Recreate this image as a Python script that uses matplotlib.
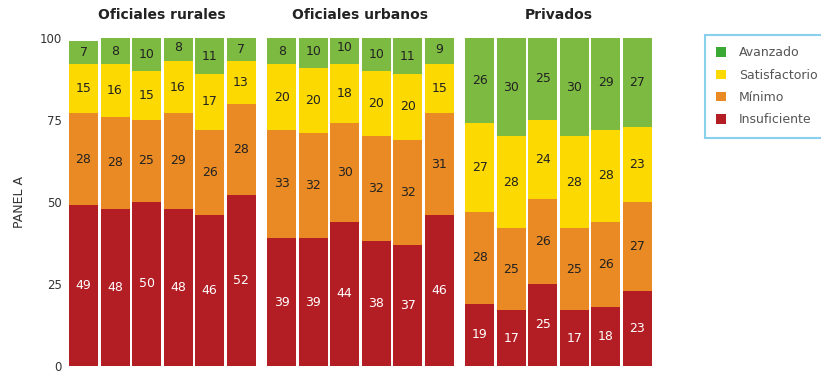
import matplotlib
matplotlib.use("Agg")
import matplotlib.pyplot as plt
import numpy as np
from matplotlib.patches import Patch

groups = ["Oficiales rurales", "Oficiales urbanos", "Privados"]
levels = ["Insuficiente", "Mínimo", "Satisfactorio", "Avanzado"]
colors = {"Insuficiente": "#b31e24", "Mínimo": "#e98a24",
          "Satisfactorio": "#fcd900", "Avanzado": "#7dba42"}
legend_colors = {"Insuficiente": "#b31e24", "Mínimo": "#e98a24",
                 "Satisfactorio": "#fcd900", "Avanzado": "#3aaa35"}

insuficiente = [[49, 48, 50, 48, 46, 52], [39, 39, 44, 38, 37, 46], [19, 17, 25, 17, 18, 23]]
minimo       = [[28, 28, 25, 29, 26, 28], [33, 32, 30, 32, 32, 31], [28, 25, 26, 25, 26, 27]]
satisfact    = [[15, 16, 15, 16, 17, 13], [20, 20, 18, 20, 20, 15], [27, 28, 24, 28, 28, 23]]
avanzado     = [[7, 8, 10, 8, 11, 7],     [8, 10, 10, 10, 11, 9],   [26, 30, 25, 30, 29, 27]]
yticks = [0, 25, 50, 75, 100]

series = [insuficiente, minimo, satisfact, avanzado]

fig = plt.figure(figsize=(8.21, 3.75), dpi=100)
ax = fig.add_axes([0.0804, 0.024, 0.7174, 0.8747])

group_offset = 6.29
width = 0.92
for g, gname in enumerate(groups):
    xs = np.arange(6) + g * group_offset
    bottom = np.zeros(6)
    for lvl, data in zip(levels, series):
        vals = np.array(data[g], dtype=float)
        ax.bar(xs, vals, width=width, bottom=bottom, color=colors[lvl], linewidth=0)
        for x, b, v in zip(xs, bottom, vals):
            tc = "white" if lvl == "Insuficiente" else "#222222"
            ax.text(x, b + v / 2, f"{int(v)}", ha="center", va="center",
                    fontsize=9, color=tc)
        bottom += vals
    ax.text(xs.mean(), 105, gname, ha="center", va="bottom", fontsize=10,
            fontweight="bold", color="#222222")

ax.set_xlim(-0.556, 18.14)
ax.set_ylim(0, 100)
ax.set_yticks(yticks)
ax.set_yticklabels([str(t) for t in yticks], fontsize=8.5, color="#333333")
ax.tick_params(axis="y", length=0, pad=3)
ax.set_xticks([])
for s in ax.spines.values():
    s.set_visible(False)
ax.set_ylabel("PANEL A", fontsize=9, color="#333333", labelpad=10)

names = ["Avanzado", "Satisfactorio", "Mínimo", "Insuficiente"]
handles = [Patch(facecolor=legend_colors[l], edgecolor="none") for l in names]
leg = fig.legend(handles, names,
                 loc="upper left", bbox_to_anchor=(705 / 821, 1 - 35 / 375),
                 fontsize=9, frameon=True, fancybox=False, handlelength=0.8,
                 handleheight=0.8, labelspacing=0.75, borderpad=0.9,
                 handletextpad=1.0, borderaxespad=0)
leg.get_frame().set_edgecolor("#6cc5e9")
leg.get_frame().set_linewidth(1.5)
for t in leg.get_texts():
    t.set_color("#555555")

fig.savefig("out.png", dpi=100)
